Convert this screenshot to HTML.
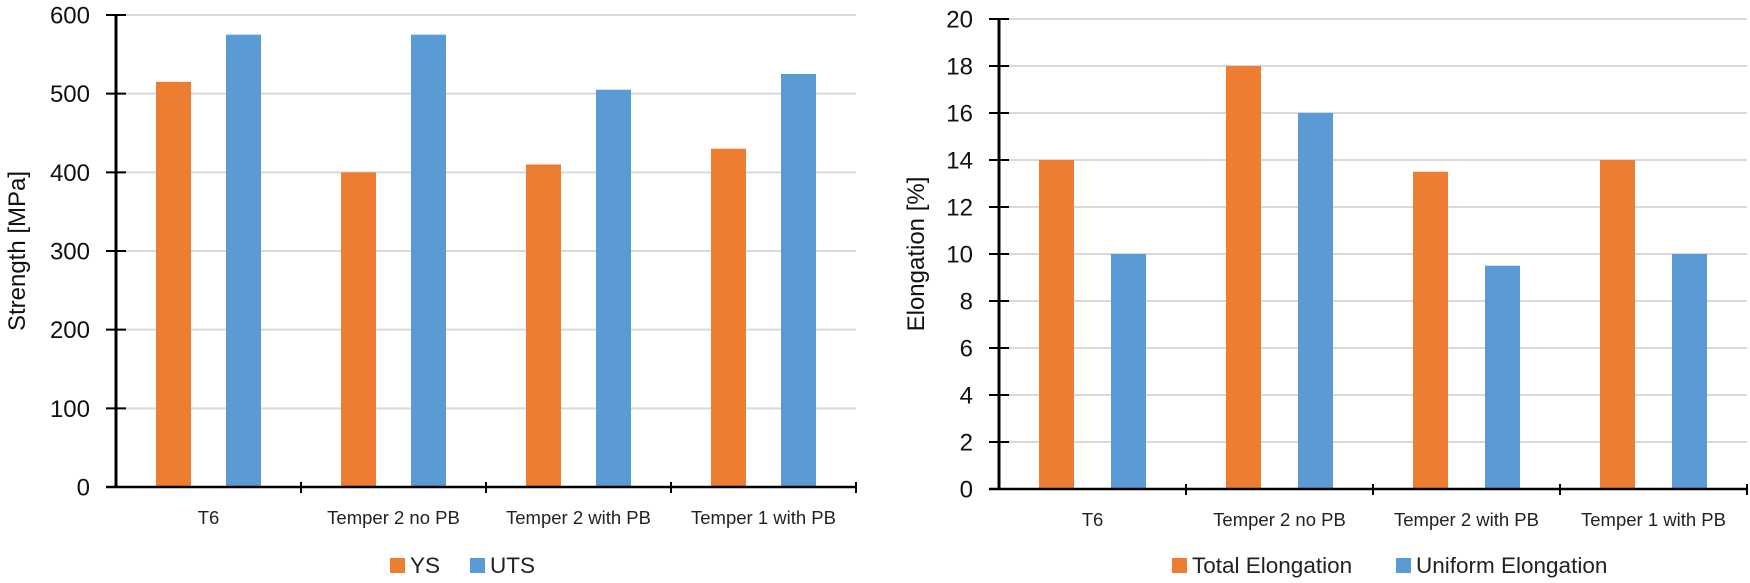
<!DOCTYPE html>
<html><head><meta charset="utf-8"><style>
html,body{margin:0;padding:0;background:#fff;}
svg{display:block;font-family:"Liberation Sans",sans-serif;}
</style></head><body>
<svg id="c" width="1750" height="583" viewBox="0 0 1750 583" xmlns="http://www.w3.org/2000/svg"></svg>
<script>
const categories = ["T6","Temper 2 no PB","Temper 2 with PB","Temper 1 with PB"];
const ysValues = [515,400,410,430];
const utsValues = [575,575,505,525];
const totalElong = [14,18,13.5,14];
const uniformElong = [10,16,9.5,10];
const leftTicks = [0,100,200,300,400,500,600];
const rightTicks = [0,2,4,6,8,10,12,14,16,18,20];

const NS="http://www.w3.org/2000/svg";
const svg=document.getElementById('c');
function mk(tag,attrs,parent){const e=document.createElementNS(NS,tag);for(const k in attrs)e.setAttribute(k,attrs[k]);(parent||svg).appendChild(e);return e;}

function drawChart(cfg){
  const g=mk('g',{});
  
  
  const y=v=>cfg.y0-(v-cfg.min)/(cfg.max-cfg.min)*(cfg.y0-cfg.yTop);
  const cw=(cfg.x1-cfg.x0)/categories.length;
  cfg.ticks.forEach(t=>{
    const yy=y(t);
    if(t!==cfg.min){const gl=mk('line',{x1:cfg.x0,x2:cfg.x1,y1:yy,y2:yy,stroke:'#d9d9d9','stroke-width':2},g);
      
      }
    const tk=mk('line',{x1:cfg.x0-10,x2:cfg.x0+10,y1:yy,y2:yy,stroke:'#000','stroke-width':2},g);
    
    
    const tl=mk('text',{x:cfg.labelX,y:yy+8.5,'text-anchor':'end','font-size':24,fill:'#111'},g);
    tl.textContent=t;
    
    
  });
  categories.forEach((c,i)=>{
    const cx=cfg.x0+cw*(i+0.5);
    [[cfg.s1,'#ed7d31',-cfg.off],[cfg.s2,'#5b9bd5',cfg.off]].forEach(([arr,col,o],k)=>{
      const v=arr[i];
      const b=mk('rect',{x:cx+o-cfg.bw/2,y:y(v),width:cfg.bw,height:cfg.y0-y(v),fill:col},g);
      
      
    });
    const lb=mk('text',{x:cx,y:cfg.y0+37,'text-anchor':'middle','font-size':18.5,fill:'#222'},g);
    lb.textContent=c;
    
    
  });
  const ya=mk('line',{x1:cfg.x0,x2:cfg.x0,y1:cfg.yTop,y2:cfg.y0,stroke:'#000','stroke-width':3},g);
  
  
  const xa=mk('line',{x1:cfg.x0-10,x2:cfg.x1,y1:cfg.y0,y2:cfg.y0,stroke:'#000','stroke-width':2.5},g);
  
  
  for(let i=1;i<=categories.length;i++){
    const xx=cfg.x0+cw*i;
    const ct=mk('line',{x1:xx,x2:xx,y1:cfg.y0-5,y2:cfg.y0+6,stroke:'#000','stroke-width':2},g);
    
    
  }
  const tt=mk('text',{x:0,y:0,'text-anchor':'middle','font-size':24,fill:'#111',transform:`translate(${cfg.titleX},${(cfg.y0+cfg.yTop)/2}) rotate(-90)`},g);
  tt.textContent=cfg.title;
  
  
  cfg.legend.forEach(L=>{
    const lg=mk('g',{},g);
    
    
    mk('rect',{x:L.x,y:558,width:15,height:15,fill:L.col},lg);
    const t=mk('text',{x:L.x+20,y:573,'font-size':22.5,fill:'#222'},lg);
    t.textContent=L.text;
  });
}

drawChart({name:'strength-chart',x0:116,x1:856,y0:487,yTop:15,min:0,max:600,ticks:leftTicks,
  s1:ysValues,s2:utsValues,n1:'ys',n2:'uts',bw:35,off:35,labelX:90,titleX:25,title:'Strength [MPa]',
  legend:[{x:390,col:'#ed7d31',text:'YS'},{x:470,col:'#5b9bd5',text:'UTS'}]});
drawChart({name:'elongation-chart',x0:999,x1:1747,y0:489,yTop:19,min:0,max:20,ticks:rightTicks,
  s1:totalElong,s2:uniformElong,n1:'total-elongation',n2:'uniform-elongation',bw:35,off:36,labelX:973,titleX:924,title:'Elongation [%]',
  legend:[{x:1172,col:'#ed7d31',text:'Total Elongation'},{x:1396,col:'#5b9bd5',text:'Uniform Elongation'}]});
</script>
</body></html>
